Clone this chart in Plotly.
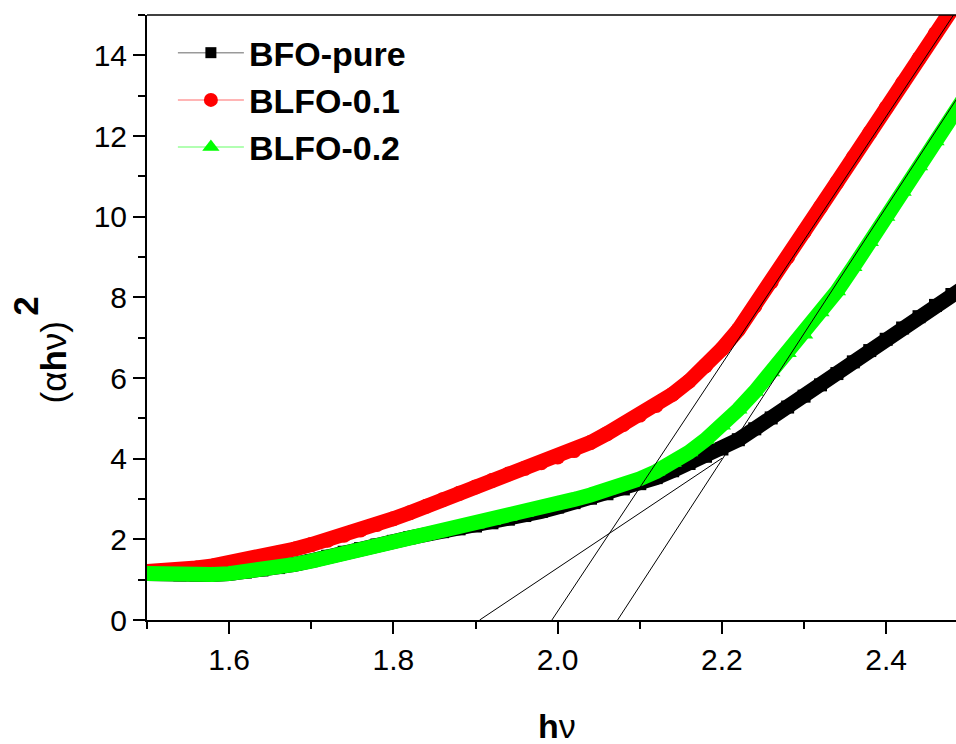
import plotly.graph_objects as go

# Photon energy grid (eV)
hv = [1.50, 1.52, 1.54, 1.56, 1.58, 1.60, 1.62, 1.64, 1.66, 1.68,
      1.70, 1.72, 1.74, 1.76, 1.78, 1.80, 1.82, 1.84, 1.86, 1.88,
      1.90, 1.92, 1.94, 1.96, 1.98, 2.00, 2.02, 2.04, 2.06, 2.08,
      2.10, 2.12, 2.14, 2.16, 2.18, 2.20, 2.22, 2.24, 2.26, 2.28,
      2.30, 2.32, 2.34, 2.36, 2.38, 2.40, 2.42, 2.44, 2.46, 2.48, 2.50]

# (alpha h nu)^2 for each sample
bfo_pure = [1.15, 1.13, 1.12, 1.12, 1.13, 1.15, 1.19, 1.24, 1.30, 1.38,
            1.47, 1.58, 1.68, 1.77, 1.86, 1.95, 2.04, 2.12, 2.19, 2.26,
            2.33, 2.41, 2.50, 2.59, 2.69, 2.80, 2.91, 3.02, 3.13, 3.25,
            3.38, 3.53, 3.70, 3.88, 4.06, 4.24, 4.47, 4.74, 5.01, 5.28,
            5.55, 5.83, 6.11, 6.40, 6.68, 6.96, 7.24, 7.52, 7.80, 8.07, 8.32]

blfo_01 = [1.20, 1.21, 1.24, 1.29, 1.34, 1.41, 1.49, 1.57, 1.66, 1.76,
           1.87, 1.98, 2.10, 2.23, 2.37, 2.51, 2.66, 2.82, 2.98, 3.14,
           3.30, 3.46, 3.62, 3.76, 3.90, 4.04, 4.20, 4.40, 4.62, 4.85,
           5.08, 5.32, 5.60, 5.92, 6.30, 6.72, 7.20, 7.78, 8.38, 9.00,
           9.62, 10.24, 10.85, 11.47, 12.08, 12.70, 13.31, 13.92, 14.54, 15.15, 15.75]

blfo_02 = [1.15, 1.13, 1.12, 1.12, 1.13, 1.15, 1.19, 1.24, 1.30, 1.38,
           1.46, 1.55, 1.64, 1.73, 1.82, 1.92, 2.01, 2.10, 2.19, 2.28,
           2.37, 2.46, 2.56, 2.66, 2.77, 2.88, 2.99, 3.10, 3.22, 3.35,
           3.50, 3.68, 3.90, 4.16, 4.47, 4.82, 5.22, 5.66, 6.14, 6.62,
           7.08, 7.63, 8.15, 8.75, 9.37, 10.00, 10.62, 11.25, 11.87, 12.50, 13.10]

# Linear extrapolations of the absorption edge: (hv, y) end points
fit_bfo_x = [1.905, 2.200]
fit_bfo_y = [0.0, 4.01]
fit_01_x = [1.993, 2.482]
fit_01_y = [0.0, 15.0]
fit_02_x = [2.073, 2.490]
fit_02_y = [0.0, 13.05]

series = [
    ("BFO-pure", bfo_pure, "#000000", "#9a9a9a", "square", 11, 13),
    ("BLFO-0.1", blfo_01, "#ff0000", "#ff9c9c", "circle", 14, 15),
    ("BLFO-0.2", blfo_02, "#00ff00", "#99ff99", "triangle-up", 15, 16),
]

FONT = "Liberation Sans, Arial, sans-serif"

fig = go.Figure()

# Dense data bands
for name, ys, col, _, sym, _, msize in series:
    fig.add_trace(go.Scatter(
        x=hv, y=ys, mode="lines+markers", showlegend=False,
        line=dict(color=col, width=15),
        marker=dict(symbol=sym, size=msize, color=col, line=dict(width=0)),
        hoverinfo="skip"))

# Tangent lines
for fx, fy in [(fit_bfo_x, fit_bfo_y), (fit_01_x, fit_01_y), (fit_02_x, fit_02_y)]:
    fig.add_trace(go.Scatter(x=fx, y=fy, mode="lines", showlegend=False,
                             line=dict(color="black", width=1), hoverinfo="skip"))

# Legend entries
for name, ys, col, lcol, sym, lsize, _ in series:
    fig.add_trace(go.Scatter(
        x=[None], y=[None], mode="lines+markers", name=name,
        line=dict(color=lcol, width=1.5),
        marker=dict(symbol=sym, size=lsize, color=col, line=dict(width=0))))

axis_common = dict(
    showline=True, linecolor="black", linewidth=2,
    ticks="outside", ticklen=12, tickwidth=2, tickcolor="black",
    showgrid=False, zeroline=False,
    tickfont=dict(family=FONT, size=30, color="black"),
)

fig.update_xaxes(range=[1.5, 2.485], tick0=1.6, dtick=0.2, tickformat=".1f",
                 minor=dict(dtick=0.1, ticks="outside", ticklen=7, tickwidth=2,
                            tickcolor="black"),
                 **axis_common)
fig.update_yaxes(range=[0, 15], tick0=0, dtick=2,
                 minor=dict(dtick=1, ticks="outside", ticklen=7, tickwidth=2,
                            tickcolor="black"),
                 **axis_common)

# Top frame line
fig.add_shape(type="line", xref="paper", yref="paper", x0=0, x1=1, y0=1, y1=1,
              line=dict(color="black", width=1.5))

# Axis titles
fig.add_annotation(text="<b>h</b>ν", xref="paper", yref="paper",
                   x=0.507, y=-0.176, xanchor="center", yanchor="middle",
                   showarrow=False, font=dict(family=FONT, size=34, color="black"))
fig.add_annotation(text="(α<b>h</b>ν)", xref="paper", yref="paper",
                   x=-0.116, y=0.426, xanchor="center", yanchor="middle",
                   textangle=-90, showarrow=False,
                   font=dict(family=FONT, size=35, color="black"))
fig.add_annotation(text="<b>2</b>", xref="paper", yref="paper",
                   x=-0.151, y=0.519, xanchor="center", yanchor="middle",
                   textangle=-90, showarrow=False,
                   font=dict(family=FONT, size=35, color="black"))

fig.update_layout(
    width=956, height=744,
    margin=dict(l=147, r=0, t=15, b=124),
    plot_bgcolor="white", paper_bgcolor="white",
    legend=dict(x=0.032, y=0.985, xanchor="left", yanchor="top",
                bgcolor="rgba(0,0,0,0)", borderwidth=0,
                itemwidth=66,
                font=dict(family=FONT, size=34, color="black", weight="bold")),
)

fig.write_html("out.html")
